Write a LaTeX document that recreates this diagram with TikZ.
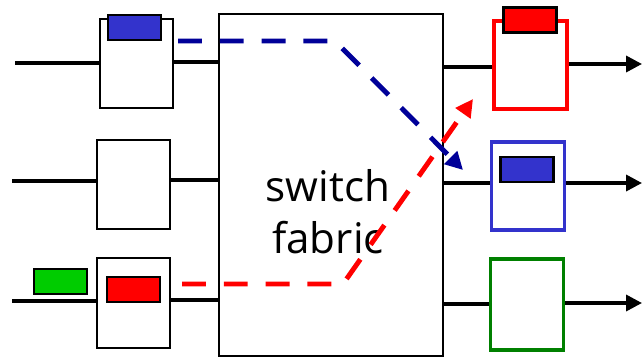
\documentclass[tikz,border=0pt]{standalone}
\usepackage{fontspec}
\setsansfont{Open Sans}
\usetikzlibrary{arrows.meta}
\definecolor{pktblue}{HTML}{3333CC}
\definecolor{pathblue}{HTML}{000099}
\definecolor{pktgreen}{HTML}{00CC00}
\definecolor{boxgreen}{HTML}{008000}

\begin{document}
\begin{tikzpicture}[x=0.02cm,y=-0.02cm,
  port/.style={draw,line width=0.8pt,minimum width=1.46cm,minimum height=1.78cm,inner sep=0pt},
  outport/.style={port,line width=2pt,minimum height=1.76cm},
  pkt/.style={draw,line width=1.2pt,minimum width=1.06cm,minimum height=0.5cm,inner sep=0pt},
  link/.style={line width=2pt},
  outlink/.style={link,-{Triangle[length=9pt,width=9pt]}},
  route/.style={line width=2.8pt,dash pattern=on 13.6pt off 10.2pt,-{Triangle[length=10pt,width=10pt]}}]
\useasboundingbox (0,0) rectangle (642,358);
% switch fabric
\node[draw,line width=0.8pt,minimum width=4.48cm,minimum height=6.84cm,inner sep=0pt] (fabric) at (331,185) {};
\node[font=\sffamily\fontsize{24}{29.5}\selectfont,align=center] (fabtext) at (328,212) {switch\\fabric};
% input ports
\node[port] (in1) at (136.5,63.5) {};
\node[port] (in2) at (133.5,184.5) {};
\node[port,minimum height=1.8cm] (in3) at (133.5,303) {};
\coordinate (i1) at (15,63);
\coordinate (i2) at (12,181);
\coordinate (i3) at (12,301);
\draw[link] (i1) -- (i1 -| in1.west);
\draw[link] (in1.east |- 0,62) -- (fabric.west |- 0,62);
\draw[link] (i2) -- (i2 -| in2.west);
\draw[link] (in2.east |- 0,180) -- (fabric.west |- 0,180);
\draw[link] (i3) -- (i3 -| in3.west);
\draw[link] (in3.east |- 0,300) -- (fabric.west |- 0,300);
% output ports
\node[outport,draw=red] (out1) at (530.5,65) {};
\node[outport,draw=pktblue] (out2) at (528,186) {};
\node[outport,draw=boxgreen,minimum height=1.82cm] (out3) at (527,304.5) {};
\coordinate (o1) at (642,64);
\coordinate (o2) at (642,183);
\coordinate (o3) at (642,303);
\draw[link] (fabric.east |- 0,67) -- (out1.west |- 0,67);
\draw[outlink] (out1.east |- o1) -- (o1);
\draw[link] (fabric.east |- 0,183) -- (out2.west |- 0,183);
\draw[outlink] (out2.east |- o2) -- (o2);
\draw[link] (fabric.east |- 0,304) -- (out3.west |- 0,304);
\draw[outlink] (out3.east |- o3) -- (o3);
% packets
\node[pkt,fill=pktblue] (pb1) at (134.5,27.5) {};
\node[pkt,fill=red] (pr1) at (133.5,289.5) {};
\node[pkt,fill=pktgreen] (pg1) at (60.5,281.5) {};
\node[pkt,fill=red] (pr2) at (530,20) {};
\node[pkt,fill=pktblue] (pb2) at (527,169.5) {};
% routes through the fabric
\coordinate (bs) at (178,41);
\coordinate (bc) at (335,41);
\coordinate (be) at (463,170);
\coordinate (rs) at (182,284);
\coordinate (rc) at (343,284);
\coordinate (re) at (473,99);
\draw[route,pathblue] (bs) -- (bc) -- (be);
\draw[route,red] (rs) -- (rc) -- (re);
\end{tikzpicture}
\end{document}
